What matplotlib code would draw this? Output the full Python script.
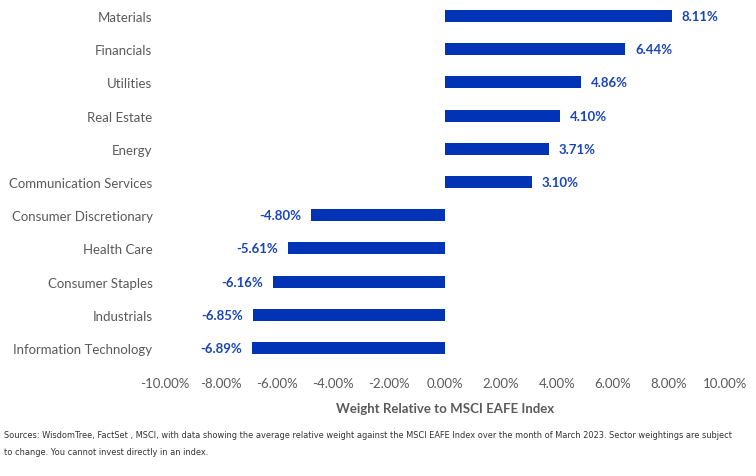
import matplotlib.pyplot as plt

# sector data (top to bottom as shown)
sectors = ["Materials", "Financials", "Utilities", "Real Estate", "Energy",
           "Communication Services", "Consumer Discretionary", "Health Care",
           "Consumer Staples", "Industrials", "Information Technology"]
weights = [8.11, 6.44, 4.86, 4.10, 3.71, 3.10, -4.80, -5.61, -6.16, -6.85, -6.89]
xticks = [-10, -8, -6, -4, -2, 0, 2, 4, 6, 8, 10]

plt.rcParams['font.family'] = ['Lato', 'DejaVu Sans']
bar_color = '#0033b5'
text_color = '#5a5a5a'

fig = plt.figure(figsize=(7.56, 4.77), dpi=100)
ax = fig.add_axes([165 / 756, 1 - 365.6 / 477, 560 / 756, 365.2 / 477])

ypos = list(range(len(sectors)))
ax.barh(ypos, weights, height=0.36, color=bar_color)
for y, w in zip(ypos, weights):
    if w >= 0:
        ax.text(w + 0.35, y, f"{w:.2f}%", va='center', ha='left',
                color='#1a45b8', fontsize=9.5, fontweight='bold')
    else:
        ax.text(w - 0.35, y, f"{w:.2f}%", va='center', ha='right',
                color='#1a45b8', fontsize=9.5, fontweight='bold')

ax.set_xlim(-10, 10)
ax.set_ylim(len(sectors) - 0.5, -0.5)
ax.set_xticks(xticks)
ax.set_xticklabels([f"{t:.2f}%" for t in xticks], color=text_color, fontsize=9.5)
ax.set_yticks(ypos)
ax.set_yticklabels(sectors, color=text_color, fontsize=9.5)
ax.tick_params(length=0)
ax.tick_params(axis='x', pad=9)
ax.tick_params(axis='y', pad=9)
for s in ax.spines.values():
    s.set_visible(False)
ax.set_xlabel("Weight Relative to MSCI EAFE Index", color=text_color,
              fontsize=9.5, fontweight='bold', labelpad=9)

fig.text(4 / 756, 1 - 444 / 477,
         "Sources: WisdomTree, FactSet , MSCI, with data showing the average relative weight against the MSCI EAFE Index over the month of March 2023. Sector weightings are subject\nto change. You cannot invest directly in an index.",
         fontsize=5.95, color='#333333', va='center', ha='left', linespacing=2.15,
         family=['Liberation Sans Narrow', 'DejaVu Sans'])

fig.savefig("out.png", dpi=100)
